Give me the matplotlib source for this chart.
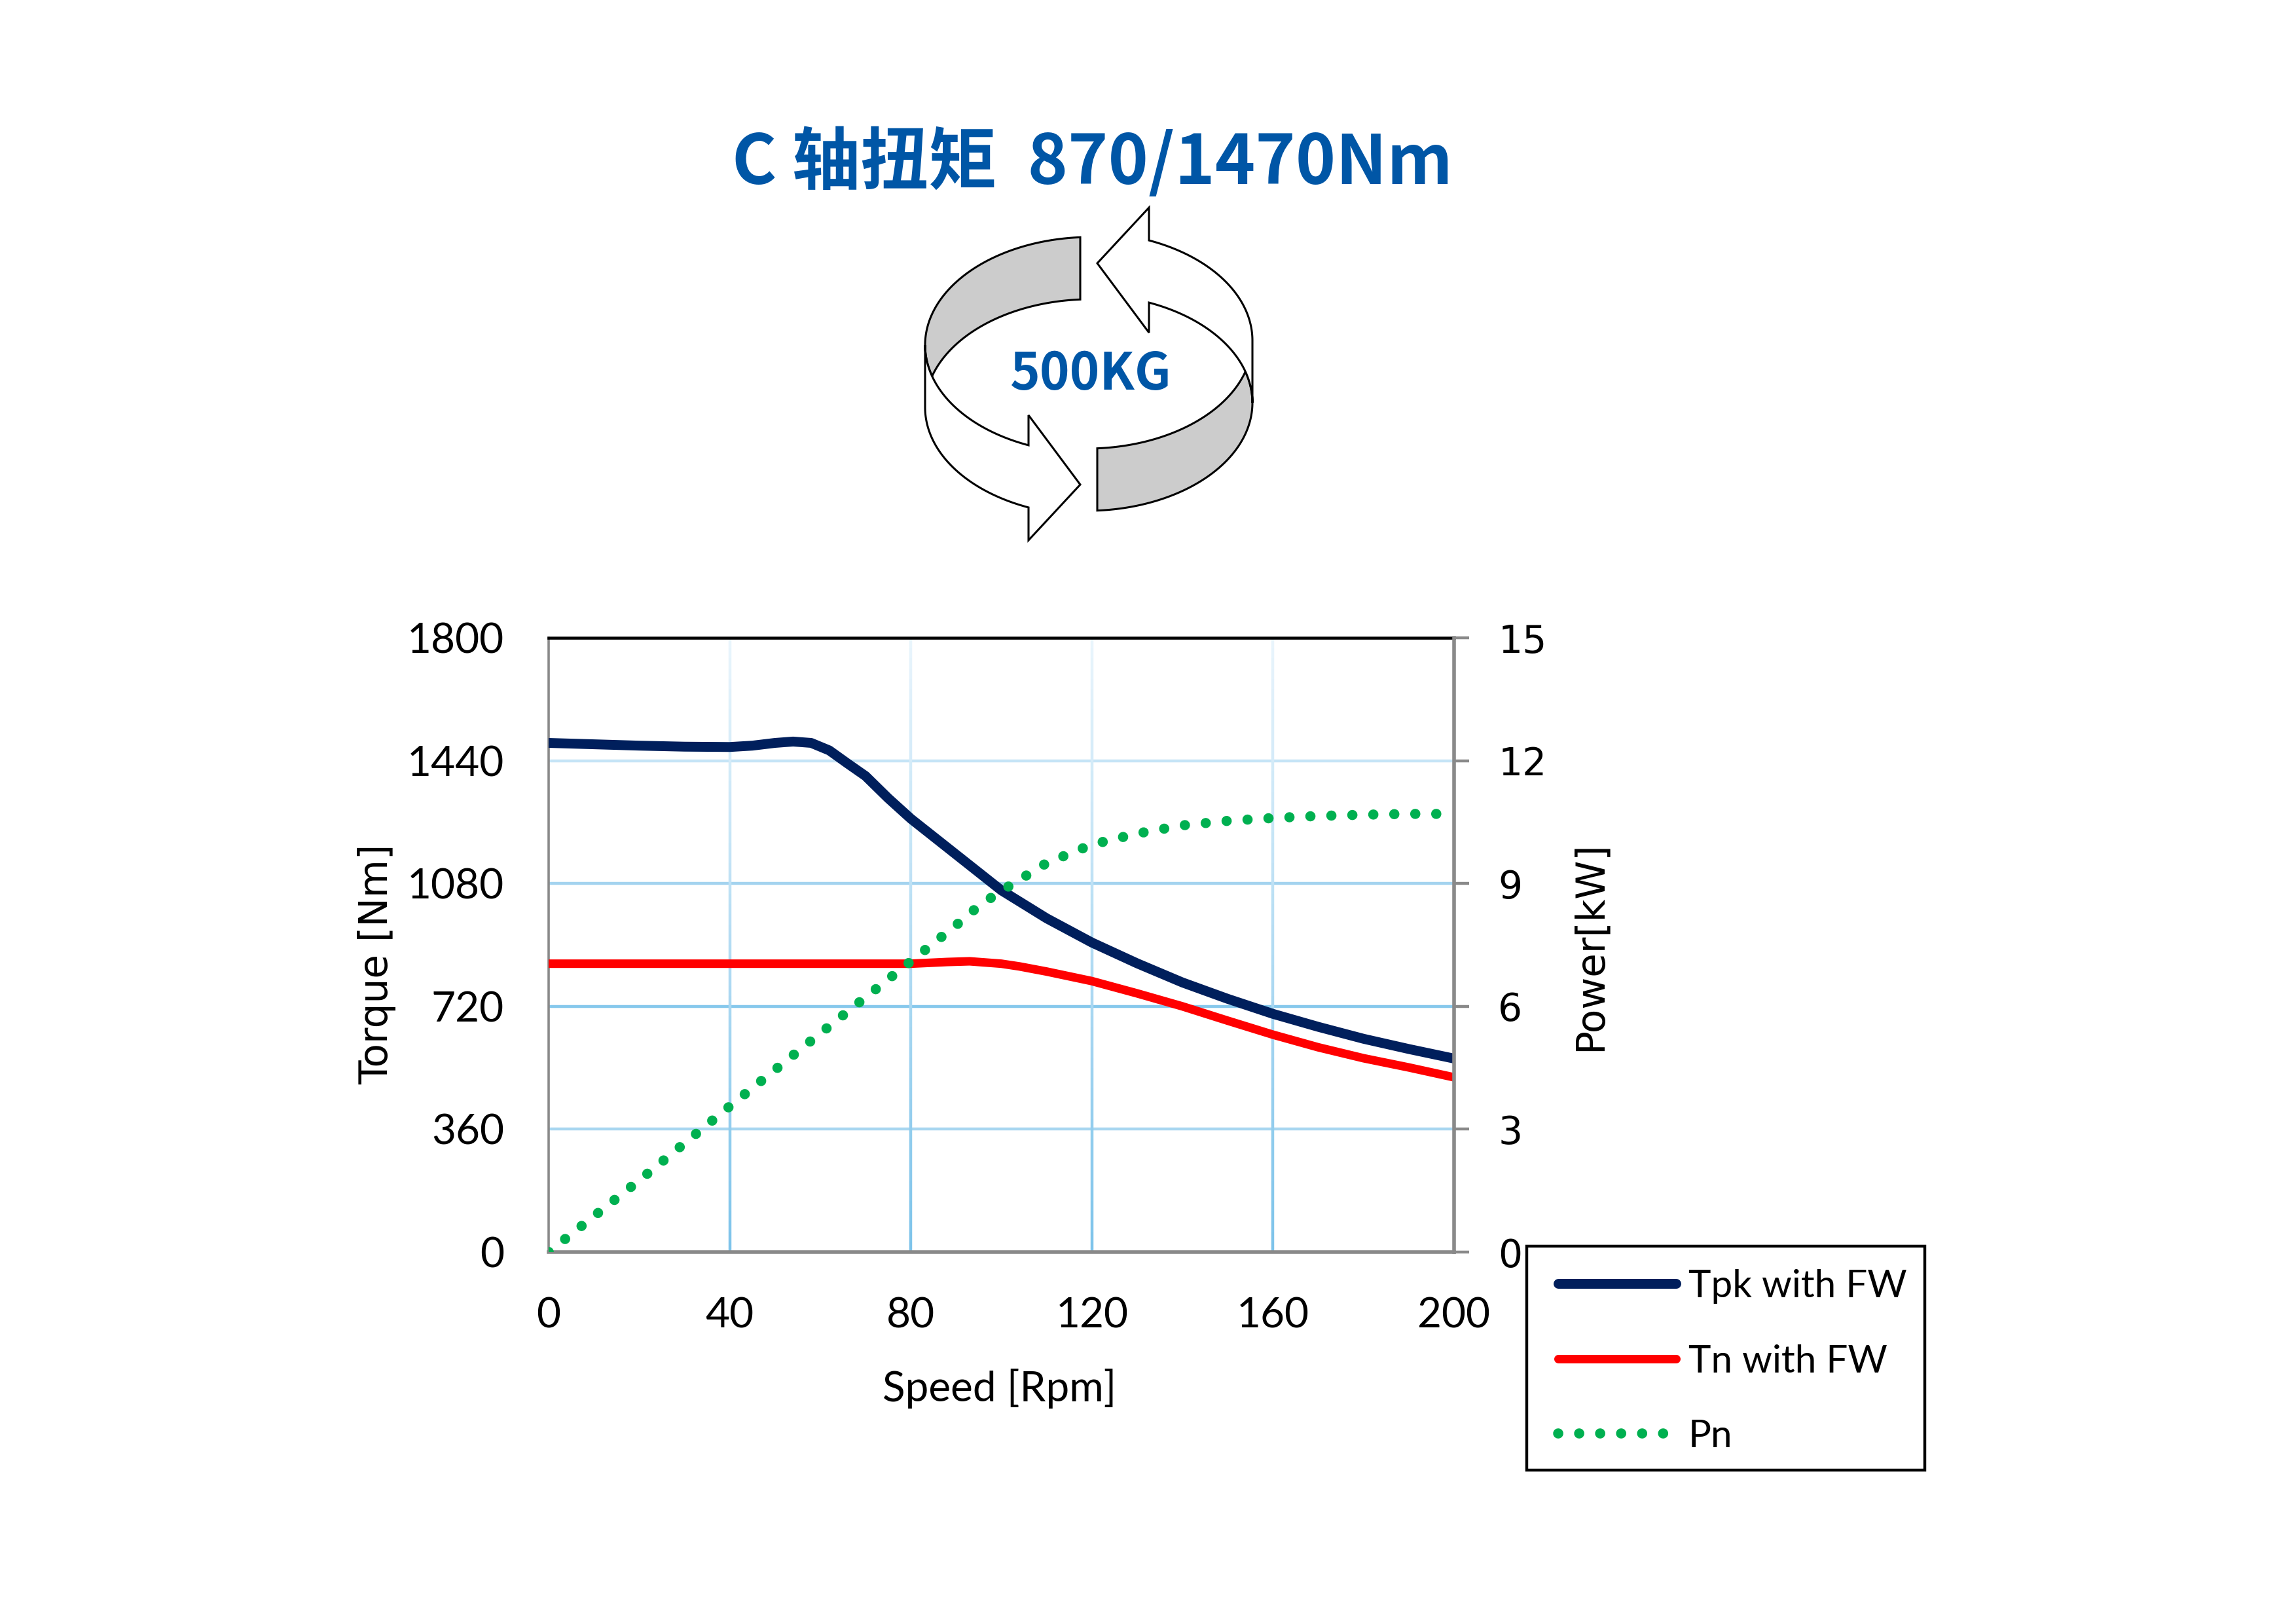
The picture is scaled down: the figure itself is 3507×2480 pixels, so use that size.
import numpy as np
import matplotlib
matplotlib.use('Agg')
import matplotlib.pyplot as plt
from matplotlib.patches import Polygon, Rectangle
from matplotlib.collections import LineCollection

plt.rcParams['font.family'] = ['Lato', 'DejaVu Sans']

# --- values ---
tpk_speed = [0, 10, 20, 30, 40, 45, 50, 54, 58, 62, 66, 70, 75, 80, 90, 100,
             110, 120, 130, 140, 150, 160, 170, 180, 190, 200]
tpk_torque = [1492, 1488, 1484, 1481, 1480, 1484, 1492, 1496, 1492, 1470, 1432,
              1395, 1330, 1270, 1165, 1060, 978, 907, 846, 790, 742, 698, 660,
              625, 595, 567]

tn_speed = [0, 20, 40, 60, 80, 88, 93, 100, 104, 110, 120, 130, 140, 150, 160,
            170, 180, 190, 200]
tn_torque = [845, 845, 845, 845, 845, 850, 852, 845, 837, 822, 794, 758, 720,
             678, 637, 600, 568, 541, 512]

pn_speed = [0, 20, 40, 60, 80, 90, 95, 100, 110, 120, 130, 140, 150, 160, 170,
            180, 190, 200]
pn_power = [0, 1.75, 3.56, 5.34, 7.1, 7.98, 8.45, 8.82, 9.5, 9.95, 10.22,
            10.42, 10.53, 10.6, 10.65, 10.68, 10.7, 10.7]

speed_ticks = [0, 40, 80, 120, 160, 200]
torque_ticks = [0, 360, 720, 1080, 1440, 1800]
power_ticks = [0, 3, 6, 9, 12, 15]
series_names = ['Tpk with FW', 'Tn with FW', 'Pn']

title_text = 'C 轴扭矩  870/1470Nm'
load_text = '500KG'

W, H = 3507, 2480
BLUE = '#0056A6'
GRAY = '#898989'

style_tpk = dict(color='#001F5C', lw=10.8, solid_capstyle='round', solid_joinstyle='round')
style_tn = dict(color='#FF0000', lw=9.4, solid_capstyle='round', solid_joinstyle='round')
style_pn = dict(color='#00B050', lw=11.2, linestyle=(0, (0.01, 2.05)),
                dash_capstyle='round')

fig = plt.figure(figsize=(W / 100, H / 100), dpi=100)

# full-figure overlay in pixel units for the title, the arrow graphic and legend
ov = fig.add_axes([0, 0, 1, 1], zorder=0)
ov.set_xlim(0, W)
ov.set_ylim(H, 0)
ov.axis('off')

ov.text(1668, 281, title_text, ha='center', va='baseline', fontsize=75,
        fontweight='bold', color=BLUE, family=['Noto Sans CJK SC', 'DejaVu Sans'])

# circular arrow graphic (two bands of an oblique ring)
cx, cy, a, b, h = 1666, 527, 253, 165, 95


def ell(t0, t1, yc, n=90):
    t = np.radians(np.linspace(t0, t1, n))
    return np.column_stack([cx + a * np.cos(t), yc - b * np.sin(t)])


t_top = np.degrees(np.arccos((1650 - cx) / a))
u = np.sqrt(1 - (h / (2 * b)) ** 2)
t_cut = np.degrees(np.arccos(-u))
t_end = np.degrees(np.arccos((1571 - cx) / a))

back = np.vstack([ell(t_top, 360 - t_cut, cy), ell(t_cut, t_top, cy + h)])
head = np.array([[1571, 634], [1650, 740], [1571, 825]])
front = np.vstack([ell(180, 360 - t_end, cy), head, ell(360 - t_end, 180, cy + h)])

rc = np.array([2 * 1663, 2 * 571])
for pts, fill in [(back, '#CCCCCC'), (front, 'white'),
                  (rc - back, '#CCCCCC'), (rc - front, 'white')]:
    ov.add_patch(Polygon(pts, closed=True, facecolor=fill, edgecolor='black',
                         lw=2.2, joinstyle='miter'))

ov.text(1666, 595, load_text, ha='center', va='baseline', fontsize=56,
        fontweight='bold', color=BLUE, family=['Noto Sans CJK SC', 'DejaVu Sans'])

# --- main chart ---
ax = fig.add_axes([838 / W, 1 - 1912 / H, 1383 / W, 938 / H], zorder=2)
ax.set_xlim(0, 200)
ax.set_ylim(0, 1800)
ax.set_xticks(speed_ticks)
ax.set_yticks(torque_ticks)
ax.tick_params(axis='both', length=0, labelsize=46, pad=49)

# gridlines: horizontal with fixed tints, vertical with a light-to-dark gradient
h_cols = ['#A8D6F0', '#86C8EC', '#A3D3EF', '#C5E4F6']
for yv, c in zip(torque_ticks[1:-1], h_cols):
    ax.axhline(yv, color=c, lw=3.2, zorder=0.5)
top_c = np.array(matplotlib.colors.to_rgb('#EAF5FC'))
bot_c = np.array(matplotlib.colors.to_rgb('#7CC3EA'))
ys = np.linspace(0, 1800, 61)
for xv in speed_ticks[1:-1]:
    segs = [[(xv, ys[i]), (xv, ys[i + 1])] for i in range(len(ys) - 1)]
    f = (ys[:-1] + ys[1:]) / 2 / 1800
    cols = bot_c + (top_c - bot_c) * f[:, None]
    ax.add_collection(LineCollection(segs, colors=cols, lw=3.2, zorder=0.6))

ax.plot(tpk_speed, tpk_torque, zorder=3, **style_tpk)
ax.plot(tn_speed, tn_torque, zorder=3, **style_tn)

for side in ['left', 'bottom']:
    ax.spines[side].set_color(GRAY)
ax.spines['left'].set_linewidth(2.6)
ax.spines['bottom'].set_linewidth(4.0)
ax.spines['top'].set_color('black')
ax.spines['top'].set_linewidth(3.3)
ax.spines['right'].set_visible(False)

ax.set_xlabel('Speed [Rpm]', fontsize=46, va='baseline')
ax.xaxis.set_label_coords(0.498, (1912 - 2140) / 938)
ax.set_ylabel('Torque [Nm]', fontsize=43, family='DejaVu Sans', va='center')
ax.yaxis.set_label_coords((576 - 838) / 1383, (1912 - 1472) / 938)

ax2 = ax.twinx()
ax2.set_ylim(0, 15)
ax2.set_yticks(power_ticks)
ax2.plot(pn_speed, pn_power, zorder=3, **style_pn)
ax2.tick_params(axis='y', length=16.5, width=3.2, color=GRAY, pad=32, labelsize=42)
for lab in ax2.get_yticklabels():
    lab.set_fontfamily('DejaVu Sans')
for side in ['left', 'bottom', 'top']:
    ax2.spines[side].set_visible(False)
ax2.spines['right'].set_color(GRAY)
ax2.spines['right'].set_linewidth(4.0)
ax2.set_ylabel('Power[kW]', fontsize=43, family='DejaVu Sans', va='center')
ax2.yaxis.set_label_coords((2429 - 838) / 1383, (1912 - 1445) / 938)

# --- legend box ---
ov.add_patch(Rectangle((2332, 1903), 2940 - 2332, 2245 - 1903, facecolor='white',
                       edgecolor='black', lw=3.2, zorder=1))
for yrow, name, st in zip([1960, 2075, 2189], series_names,
                          [style_tpk, style_tn, style_pn]):
    ov.plot([2380, 2560], [yrow, yrow], zorder=2, **st)
    ov.text(2579, yrow + 21, name, fontsize=42, va='baseline', ha='left', zorder=2)

fig.savefig('out.png', dpi=100, facecolor='white')
